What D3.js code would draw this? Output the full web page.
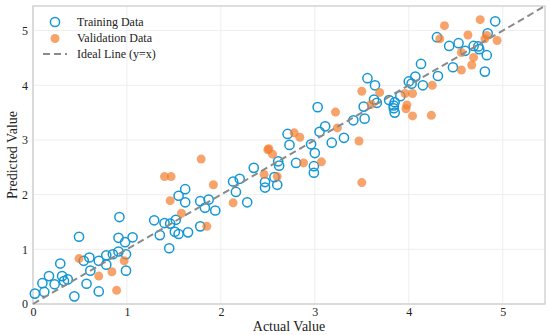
<!DOCTYPE html>
<html>
<head>
<meta charset="utf-8">
<script src="https://cdn.jsdelivr.net/npm/d3@7"></script>
<style>
  body { margin: 0; background: #fff; }
  svg text { font-family: "Liberation Serif", "Times New Roman", serif; fill: #222; }
</style>
</head>
<body>
<script>
// training points, [actual, predicted]
const trainActual = [
  0.02, 0.12, 0.10, 0.17, 0.23, 0.29, 0.31, 0.33, 0.37, 0.44, 0.49, 0.54, 0.60, 0.57, 0.61, 0.70, 0.70,
  0.78, 0.78, 0.85, 0.91, 0.92, 0.91, 0.98, 0.99, 0.99, 1.06, 1.29, 1.35, 1.40, 1.46, 1.45, 1.52, 1.51,
  1.55, 1.65, 1.55, 1.62, 1.62, 1.78, 1.83, 1.87, 1.94, 1.78,
  2.13, 2.20, 2.16, 2.28, 2.35, 2.47, 2.47, 2.57, 2.60, 2.61, 2.62, 2.71, 2.73, 2.80, 2.96, 3.00, 2.99,
  2.99, 3.03, 3.05, 3.11, 3.18, 3.31, 3.41, 3.52, 3.53,
  3.56, 3.64, 3.63, 3.66, 3.79, 3.85, 3.84, 3.84, 3.85, 3.91, 4.00, 4.03, 4.07, 4.13, 4.15, 4.31, 4.30,
  4.43, 4.47, 4.53, 4.60, 4.69, 4.74, 4.75, 4.83, 4.81, 4.84, 4.92
];
const trainPred = [
  0.19, 0.22, 0.38, 0.51, 0.36, 0.74, 0.51, 0.42, 0.45, 0.14, 1.23, 0.79, 0.85, 0.37, 0.61, 0.79, 0.23,
  0.89, 0.72, 0.91, 0.96, 1.59, 1.21, 1.13, 0.91, 0.61, 1.22, 1.53, 1.26, 1.48, 1.47, 1.02, 1.54, 1.32,
  1.28, 1.31, 1.98, 2.10, 1.86, 1.88, 1.76, 1.91, 1.71, 1.42,
  2.24, 2.29, 2.05, 1.86, 2.49, 2.23, 2.13, 2.32, 2.18, 2.61, 2.53, 3.11, 2.91, 2.58, 2.92, 2.76, 2.52,
  2.40, 3.60, 3.15, 3.25, 2.95, 3.04, 3.36, 3.61, 3.39,
  4.13, 4.00, 3.74, 3.68, 3.73, 3.69, 3.63, 3.58, 3.50, 3.80, 4.07, 4.03, 4.16, 4.39, 4.00, 4.17, 4.88,
  4.72, 4.33, 4.77, 4.63, 4.72, 4.71, 4.66, 4.55, 4.25, 4.95, 5.17
];

// validation points
const valActual = [
  1.40, 1.47, 1.92, 1.46, 1.58, 1.85, 0.49, 0.97, 0.70, 0.84, 0.89,
  1.79, 2.13, 2.46, 2.50, 2.51, 2.55, 2.60, 2.78, 2.84, 2.88, 3.07, 3.22, 3.24, 3.47, 3.50, 3.50, 3.60,
  3.69, 3.96, 4.04, 3.98, 3.97, 4.04, 4.24, 4.25, 4.38, 4.33, 4.56, 4.56, 4.63, 4.67, 4.69, 4.76, 4.81,
  4.83, 4.94
];
const valPred = [
  2.33, 2.33, 2.18, 1.89, 1.66, 1.42, 0.83, 0.79, 0.51, 0.59, 0.25,
  2.65, 1.85, 2.37, 2.82, 2.84, 2.74, 2.33, 3.13, 3.05, 2.58, 2.60, 3.51, 3.22, 2.98, 2.22, 3.89, 3.65,
  3.87, 3.85, 3.85, 3.64, 3.57, 3.44, 3.45, 4.00, 5.09, 4.85, 4.28, 4.60, 4.92, 4.37, 4.51, 5.20, 4.85,
  4.91, 4.82
];

const ticks = [0, 1, 2, 3, 4, 5];
const axisMax = 5.45;

const width = 550, height = 335;
const margin = { left: 33, right: 5, top: 6, bottom: 31 };

const svg = d3.select('body').append('svg')
  .attr('width', width)
  .attr('height', height);

const xScale = d3.scaleLinear().domain([0, axisMax]).range([margin.left, width - margin.right]);
const yScale = d3.scaleLinear().domain([0, axisMax]).range([height - margin.bottom, margin.top]);

// grid
svg.append('g').selectAll('line.vx')
  .data(ticks).join('line')
  .attr('x1', d => xScale(d)).attr('x2', d => xScale(d))
  .attr('y1', yScale(0)).attr('y2', yScale(axisMax))
  .attr('stroke', '#eeeeee').attr('stroke-width', 1);
svg.append('g').selectAll('line.hy')
  .data(ticks).join('line')
  .attr('y1', d => yScale(d)).attr('y2', d => yScale(d))
  .attr('x1', xScale(0)).attr('x2', xScale(axisMax))
  .attr('stroke', '#eeeeee').attr('stroke-width', 1);

// axes (labels only, spines drawn as a frame)
const xAxis = svg.append('g')
  .attr('transform', `translate(0, ${yScale(0)})`)
  .call(d3.axisBottom(xScale).tickValues(ticks).tickSize(0).tickPadding(3).tickFormat(d3.format('d')));
const yAxis = svg.append('g')
  .attr('transform', `translate(${xScale(0)}, 0)`)
  .call(d3.axisLeft(yScale).tickValues(ticks).tickSize(0).tickPadding(5).tickFormat(d3.format('d')));
[xAxis, yAxis].forEach(g => {
  g.select('.domain').remove();
  g.selectAll('text').style('font-family', '"Liberation Serif", serif').style('font-size', '12px').attr('fill', '#333');
});

svg.append('rect')
  .attr('x', xScale(0)).attr('y', yScale(axisMax))
  .attr('width', xScale(axisMax) - xScale(0))
  .attr('height', yScale(0) - yScale(axisMax))
  .attr('fill', 'none')
  .attr('stroke', '#cccccc')
  .attr('stroke-width', 1.3);

// training
const blue = '#1497d4';
const orange = '#f47d2e';
svg.append('g').selectAll('circle')
  .data(d3.range(trainActual.length)).join('circle')
  .attr('cx', i => xScale(trainActual[i]))
  .attr('cy', i => yScale(trainPred[i]))
  .attr('r', 4.6)
  .attr('fill', 'none')
  .attr('stroke', blue)
  .attr('stroke-width', 1.5);

// validation
svg.append('g').selectAll('circle')
  .data(d3.range(valActual.length)).join('circle')
  .attr('cx', i => xScale(valActual[i]))
  .attr('cy', i => yScale(valPred[i]))
  .attr('r', 4.5)
  .attr('fill', orange)
  .attr('fill-opacity', 0.7);

// ideal line
svg.append('line')
  .attr('x1', xScale(0)).attr('y1', yScale(0))
  .attr('x2', xScale(axisMax)).attr('y2', yScale(axisMax))
  .attr('stroke', '#8a8a8a')
  .attr('stroke-width', 2)
  .attr('stroke-dasharray', '7,4');

// axis titles
svg.append('text')
  .attr('x', (xScale(0) + xScale(axisMax)) / 2)
  .attr('y', 331)
  .attr('text-anchor', 'middle')
  .style('font-size', '14px')
  .text('Actual Value');
svg.append('text')
  .attr('transform', `translate(17, ${(yScale(0) + yScale(axisMax)) / 2}) rotate(-90)`)
  .attr('text-anchor', 'middle')
  .style('font-size', '14px')
  .text('Predicted Value');

// legend
const lg = svg.append('g').attr('transform', 'translate(55, 22)');
lg.append('circle').attr('cx', 0).attr('cy', 0).attr('r', 4.6)
  .attr('fill', 'none').attr('stroke', blue).attr('stroke-width', 1.5);
lg.append('circle').attr('cx', 0).attr('cy', 16.5).attr('r', 4.5)
  .attr('fill', orange).attr('fill-opacity', 0.7);
lg.append('line').attr('x1', -12).attr('x2', 12).attr('y1', 32).attr('y2', 32)
  .attr('stroke', '#8a8a8a').attr('stroke-width', 2).attr('stroke-dasharray', '7,4');
const labels = ['Training Data', 'Validation Data', 'Ideal Line (y=x)'];
lg.selectAll('text.lbl').data(labels).join('text')
  .attr('x', 22)
  .attr('y', (d, i) => i * 16 + 4)
  .style('font-size', '12px')
  .text(d => d);
</script>
</body>
</html>
